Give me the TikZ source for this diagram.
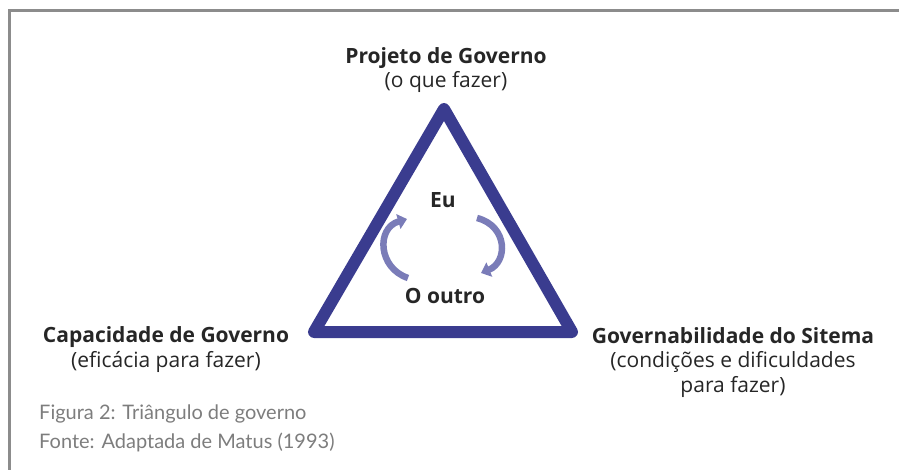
\documentclass[tikz,border=0pt]{standalone}
\usepackage{fontspec}
\setmainfont{Open Sans}
\newfontfamily\capfont{Lato}
\usetikzlibrary{arrows.meta,positioning}
\definecolor{triblue}{RGB}{58,60,143}
\definecolor{arrblue}{RGB}{122,124,184}
\definecolor{framegray}{RGB}{140,140,140}
\definecolor{capgray}{RGB}{125,125,125}

\begin{document}
\begin{tikzpicture}[x=1pt,y=-1pt]
\tikzstyle{lbl}=[align=center, inner sep=0pt, anchor=base,
	font=\fontsize{21}{24.5}\selectfont, text=black!85
]
\tikzstyle{inner}=[lbl, font=\fontsize{21}{24.5}\selectfont\bfseries]
\tikzstyle{captxt}=[inner sep=0pt, anchor=base west, text=capgray,
	font=\capfont\fontsize{20}{24}\selectfont
]
\tikzstyle{tri}=[draw=triblue, line width=12pt, line join=round]
\tikzstyle{swirl}=[draw=arrblue, line width=6.5pt,
	-{Triangle[length=9pt,width=15pt]}
]
\useasboundingbox (0,0) rectangle (899,470);
% frame
\draw[framegray, line width=3pt] (899,11) -- (9,11) -- (9,470);
% triangle
\coordinate (top) at (444,109);
\coordinate (left) at (314,332);
\coordinate (right) at (572,332);
\draw[tri] (top) -- (left) -- (right) -- cycle;
% labels (anchored on the last line)
\node[lbl] (proj) at (446,88) {\textbf{Projeto de Governo}\\(o que fazer)};
\node[lbl] (cap) at (166,367) {\textbf{Capacidade de Governo}\\(eficácia para fazer)};
\node[lbl] (gov) at (733,392) {\textbf{Governabilidade do Sitema}\\(condições e dificuldades\\para fazer)};
\node[inner] (eu) at (443,208) {Eu};
\node[inner] (outro) at (445,303) {O outro};
% arrows
\coordinate (l1) at (408,278);
\coordinate (l2) at (407,219);
\coordinate (r1) at (477,218);
\coordinate (r2) at (481,273);
\draw[swirl] (l1) .. controls (378,268) and (376,228) .. (l2);
\draw[swirl] (r1) .. controls (508,226) and (508,262) .. (r2);
% caption
\node[captxt] (fig) at (39,419) {Figura 2: Triângulo de governo};
\node[captxt] (fonte) at (39,448) {Fonte: Adaptada de Matus (1993)};
\end{tikzpicture}
\end{document}
